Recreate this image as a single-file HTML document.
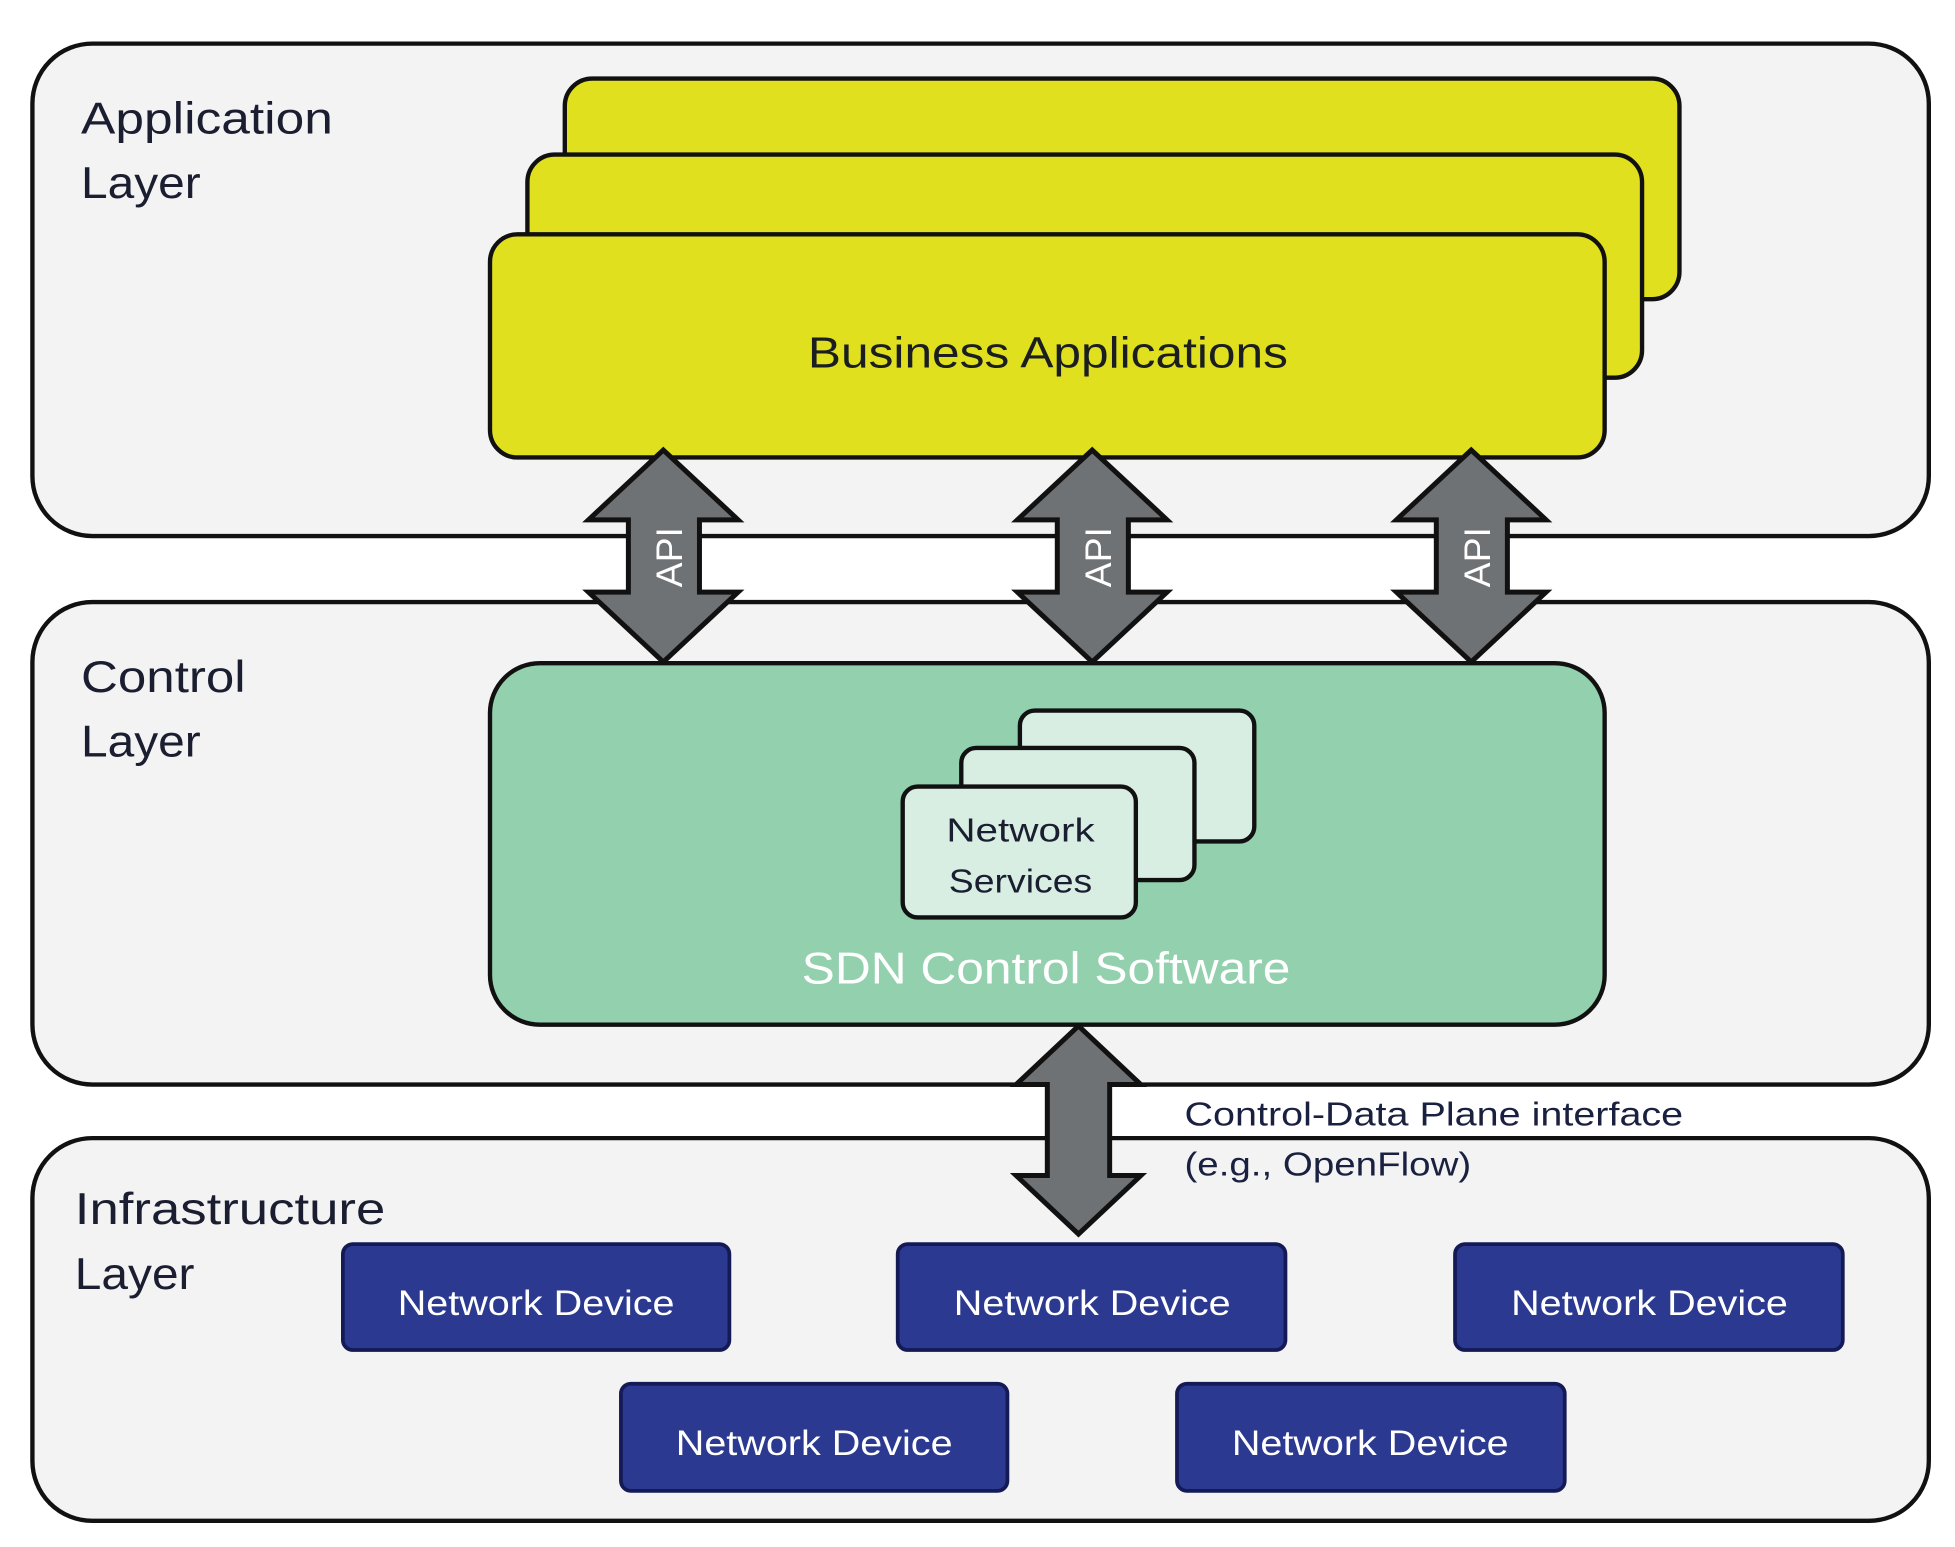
<!DOCTYPE html>
<html><head><meta charset="utf-8"><style>
html,body{margin:0;padding:0;background:#fff;width:1955px;height:1547px;overflow:hidden}
svg{display:block}
text{font-family:"Liberation Sans","DejaVu Sans",sans-serif}
</style></head><body>
<svg width="1955" height="1547" viewBox="0 0 1568 1241" preserveAspectRatio="none" xmlns="http://www.w3.org/2000/svg">
<rect x="26" y="35" width="1521" height="395" rx="48" fill="#f3f3f3" stroke="#111" stroke-width="3.5"/>
<rect x="26" y="483" width="1521" height="387" rx="48" fill="#f3f3f3" stroke="#111" stroke-width="3.5"/>
<rect x="26" y="913" width="1521" height="307" rx="48" fill="#f3f3f3" stroke="#111" stroke-width="3.5"/>
<g fill="#1a1e30" font-size="36" lengthAdjust="spacingAndGlyphs">
<text x="65" y="107" textLength="202" lengthAdjust="spacingAndGlyphs">Application</text><text x="65" y="159" textLength="96" lengthAdjust="spacingAndGlyphs">Layer</text>
<text x="65" y="555" textLength="132" lengthAdjust="spacingAndGlyphs">Control</text><text x="65" y="607" textLength="96" lengthAdjust="spacingAndGlyphs">Layer</text>
<text x="60" y="982" textLength="249" lengthAdjust="spacingAndGlyphs">Infrastructure</text><text x="60" y="1034" textLength="96" lengthAdjust="spacingAndGlyphs">Layer</text>
</g>
<g fill="#e0e01e" stroke="#111" stroke-width="3.5">
<rect x="453" y="63" width="894" height="177" rx="22"/>
<rect x="423" y="124" width="894" height="179" rx="22"/>
<rect x="393" y="188" width="894" height="179" rx="22"/>
</g>
<text x="648" y="295" font-size="35" textLength="385" lengthAdjust="spacingAndGlyphs" fill="#1a1e20">Business Applications</text>
<path d="M532 361 L592 417 L561 417 L561 475 L592 475 L532 531 L472 475 L504 475 L504 417 L472 417 Z" fill="#6f7275" stroke="#111" stroke-width="4"/>
<path d="M876 361 L936 417 L905 417 L905 475 L936 475 L876 531 L816 475 L848 475 L848 417 L816 417 Z" fill="#6f7275" stroke="#111" stroke-width="4"/>
<path d="M1180 361 L1240 417 L1209 417 L1209 475 L1240 475 L1180 531 L1120 475 L1152 475 L1152 417 L1120 417 Z" fill="#6f7275" stroke="#111" stroke-width="4"/>
<g fill="#fff" font-size="30" text-anchor="middle">
<text transform="translate(547,447) rotate(-90)">API</text>
<text transform="translate(891,447) rotate(-90)">API</text>
<text transform="translate(1195,447) rotate(-90)">API</text>
</g>
<rect x="393" y="532" width="894" height="290" rx="40" fill="#93d0ae" stroke="#111" stroke-width="3.5"/>
<g fill="#d8eee3" stroke="#111" stroke-width="3.5">
<rect x="818" y="570" width="188" height="105" rx="12"/>
<rect x="771" y="600" width="187" height="106" rx="12"/>
<rect x="724" y="631" width="187" height="105" rx="12"/>
</g>
<g fill="#1a1e30" font-size="27">
<text x="759" y="675" textLength="119" lengthAdjust="spacingAndGlyphs">Network</text><text x="761" y="716" textLength="115" lengthAdjust="spacingAndGlyphs">Services</text>
</g>
<text x="643" y="789" font-size="36" textLength="392" lengthAdjust="spacingAndGlyphs" fill="#fff">SDN Control Software</text>
<path d="M865 823 L915 870 L890 870 L890 943 L915 943 L865 990 L815 943 L840 943 L840 870 L815 870 Z" fill="#6f7275" stroke="#111" stroke-width="4"/>
<g fill="#1a2040" font-size="27">
<text x="950" y="903" textLength="400" lengthAdjust="spacingAndGlyphs">Control-Data Plane interface</text>
<text x="950" y="943" textLength="230" lengthAdjust="spacingAndGlyphs">(e.g., OpenFlow)</text>
</g>
<g fill="#2b3990" stroke="#141a55" stroke-width="3">
<rect x="275" y="998" width="310" height="85" rx="8"/>
<rect x="720" y="998" width="311" height="85" rx="8"/>
<rect x="1167" y="998" width="311" height="85" rx="8"/>
<rect x="498" y="1110" width="310" height="86" rx="8"/>
<rect x="944" y="1110" width="311" height="86" rx="8"/>
</g>
<g fill="#fff" font-size="28">
<text x="319" y="1055" textLength="222" lengthAdjust="spacingAndGlyphs">Network Device</text>
<text x="765" y="1055" textLength="222" lengthAdjust="spacingAndGlyphs">Network Device</text>
<text x="1212" y="1055" textLength="222" lengthAdjust="spacingAndGlyphs">Network Device</text>
<text x="542" y="1167" textLength="222" lengthAdjust="spacingAndGlyphs">Network Device</text>
<text x="988" y="1167" textLength="222" lengthAdjust="spacingAndGlyphs">Network Device</text>
</g>
</svg>
</body></html>
